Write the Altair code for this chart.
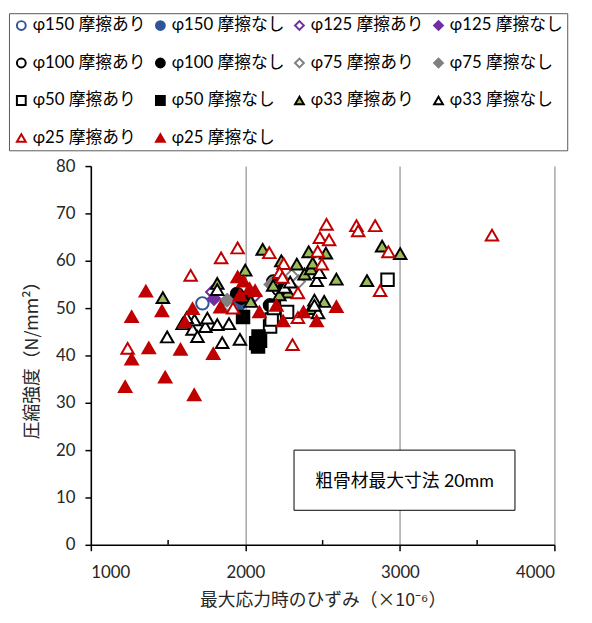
import altair as alt
import pandas as pd

FONT = "Lato, 'Noto Sans CJK JP', sans-serif"
JFONT = "'Noto Sans CJK JP', sans-serif"

series_names = ["φ150 摩擦あり", "φ150 摩擦なし", "φ125 摩擦あり", "φ125 摩擦なし",
                "φ100 摩擦あり", "φ100 摩擦なし", "φ75 摩擦あり", "φ75 摩擦なし",
                "φ50 摩擦あり", "φ50 摩擦なし", "φ33 摩擦あり", "φ33 摩擦なし",
                "φ25 摩擦あり", "φ25 摩擦なし"]
shapes = ["circle", "circle", "diamond", "diamond", "circle", "circle", "diamond", "diamond",
          "square", "square", "triangle-up", "triangle-up", "triangle-up", "triangle-up"]
strokes = ["#2F5597", "#2F5597", "#7030A0", "#7030A0", "#000000", "#000000", "#808080", "#808080",
           "#000000", "#000000", "#000000", "#000000", "#C00000", "#C00000"]
fills = ["#FFFFFF", "#2F5597", "#FFFFFF", "#7030A0", "#FFFFFF", "#000000", "#FFFFFF", "#808080",
         "#FFFFFF", "#000000", "#9BBB59", "#FFFFFF", "#FFFFFF", "#C00000"]

x_p150a = [1722, 1895]
y_p150a = [51.0, 51.2]
x_p150n = [1955]
y_p150n = [50.6]
x_p125a = [1786, 2063]
y_p125a = [53.4, 52.7]
x_p125n = [1797, 2030]
y_p125n = [52.0, 53.0]
x_p100a = [2180, 2215]
y_p100a = [55.6, 54.0]
x_p100n = [1946, 2159, 2195, 1975]
y_p100n = [53.0, 50.6, 55.2, 52.2]
x_p75a = [2300, 2345, 1900]
y_p75a = [56.8, 55.6, 50.3]
x_p75n = [1882, 2165]
y_p75n = [51.7, 55.0]
x_p50a = [2160, 2170, 2185, 2270, 2920]
y_p50a = [46.1, 47.6, 50.0, 49.2, 56.0]
x_p50n = [1985, 2085, 2070, 2095, 2082]
y_p50n = [48.1, 44.0, 42.6, 43.1, 41.9]
x_p33a = [1466, 1818, 1999, 2035, 2112, 2233, 2180, 2276, 2333, 2383, 2410, 2425, 2436,
          2521, 2589, 2510, 2425, 2787, 2885, 3002, 2220]
y_p33a = [52.2, 55.2, 58.0, 51.4, 62.4, 60.0, 54.8, 53.4, 59.3, 57.2, 61.9, 58.3, 59.5,
          61.6, 56.1, 51.4, 49.9, 55.8, 63.1, 61.5, 52.8]
x_p33n = [1494, 1594, 1658, 1690, 1741, 1754, 1818, 1894, 1850, 1965, 1671, 1818, 1620,
          2462, 2447, 2479, 2254, 2470, 2447, 2290]
y_p33n = [43.9, 46.7, 45.5, 44.0, 46.1, 47.9, 46.5, 46.7, 42.7, 43.4, 47.5, 53.9, 48.0,
          55.8, 51.7, 57.5, 54.4, 49.0, 50.6, 55.5]
x_p25a = [1238, 1646, 1843, 1950, 2155, 1920, 2305, 2340, 2525, 2719, 2730, 2840, 3596,
          2482, 2542, 2468, 2926, 2495, 2872, 2340, 2248, 2222, 2240]
y_p25a = [41.5, 56.9, 60.6, 62.7, 61.7, 50.0, 42.3, 48.0, 67.7, 67.4, 66.3, 67.4, 65.4,
          64.9, 64.4, 62.0, 61.9, 59.3, 53.7, 53.2, 59.4, 57.5, 56.5]
x_p25n = [1222, 1264, 1264, 1356, 1375, 1460, 1481, 1580, 1609, 1658, 1669, 1792, 1839,
          1950, 1988, 1965, 2027, 2063, 2091, 2201, 2244, 2376, 2461, 2589]
y_p25n = [33.4, 39.2, 48.2, 53.6, 41.6, 49.4, 35.4, 41.3, 47.1, 49.9, 31.7, 40.4, 50.2,
          56.6, 55.7, 52.8, 54.1, 53.7, 49.2, 50.6, 47.3, 49.2, 47.3, 50.3]

xs = [x_p150a, x_p150n, x_p125a, x_p125n, x_p100a, x_p100n, x_p75a, x_p75n,
      x_p50a, x_p50n, x_p33a, x_p33n, x_p25a, x_p25n]
ys = [y_p150a, y_p150n, y_p125a, y_p125n, y_p100a, y_p100n, y_p75a, y_p75n,
      y_p50a, y_p50n, y_p33a, y_p33n, y_p25a, y_p25n]

x_ticks = [1000, 2000, 3000, 4000]
x_minor = [1500, 2500, 3500]
y_ticks = [0, 10, 20, 30, 40, 50, 60, 70, 80]
note_text = ["粗骨材最大寸法 20mm"]

rows = []
for i, name in enumerate(series_names):
    for xv, yv in zip(xs[i], ys[i]):
        rows.append({"series": name, "order": i, "x": xv, "y": yv})
df = pd.DataFrame(rows)

xscale = alt.Scale(domain=[1000, 4000], nice=False, zero=False)
yscale = alt.Scale(domain=[0, 80], nice=False)

leg = alt.Legend(title=None, orient="none", legendX=-83, legendY=-155, columns=4,
                 direction="horizontal",
                 labelFontSize=17, labelFont=FONT, labelColor="#000000", symbolSize=80,
                 symbolStrokeWidth=2, rowPadding=20, columnPadding=6, padding=4,
                 strokeColor="#595959", fillColor="#FFFFFF", labelLimit=400, labelOffset=3)

points = alt.Chart(df).mark_point(size=160, strokeWidth=2, opacity=1, filled=False).encode(
    x=alt.X("x:Q", scale=xscale,
            axis=alt.Axis(values=x_ticks, format="d", title="最大応力時のひずみ（×10⁻⁶）")),
    y=alt.Y("y:Q", scale=yscale,
            axis=alt.Axis(values=y_ticks, format="d", title="圧縮強度（N/mm²）")),
    shape=alt.Shape("series:N", scale=alt.Scale(domain=series_names, range=shapes), legend=leg),
    stroke=alt.Stroke("series:N", scale=alt.Scale(domain=series_names, range=strokes), legend=leg),
    fill=alt.Fill("series:N", scale=alt.Scale(domain=series_names, range=fills), legend=leg),
    order=alt.Order("order:Q"),
)

minor = alt.Chart(pd.DataFrame({"x": x_minor})).mark_rule(color="#000000", strokeWidth=1.5).encode(
    x=alt.X("x:Q", scale=xscale), y=alt.datum(0), y2=alt.datum(1)
)

note_df = pd.DataFrame({"t": note_text})
box = alt.Chart(note_df).mark_rect(fill="#FFFFFF", stroke="#000000", strokeWidth=1).encode(
    x=alt.value(206), x2=alt.value(430), y=alt.value(288), y2=alt.value(349)
)
note = alt.Chart(note_df).mark_text(font=FONT, fontSize=18, color="#000000").encode(
    x=alt.value(318), y=alt.value(320), text="t:N"
)

chart = alt.layer(minor, points, box, note).properties(
    width=470, height=384,
    autosize=alt.AutoSizeParams(type="none"),
    padding={"left": 84, "top": 156, "right": 30, "bottom": 75},
).configure_view(stroke=None).configure_axis(
    labelFont=FONT, titleFont=JFONT, labelFontSize=17, titleFontSize=18,
    labelColor="#262626", titleColor="#262626", titleFontWeight="normal",
    domainColor="#000000", domainWidth=1.5, tickColor="#000000", tickWidth=1.5, tickSize=6,
    gridColor="#A6A6A6", gridWidth=1.5,
).configure_axisX(labelPadding=14, titlePadding=12).configure_axisY(labelPadding=10, titlePadding=14)

chart.save("out.html", embed_options={"renderer": "svg", "actions": False})
